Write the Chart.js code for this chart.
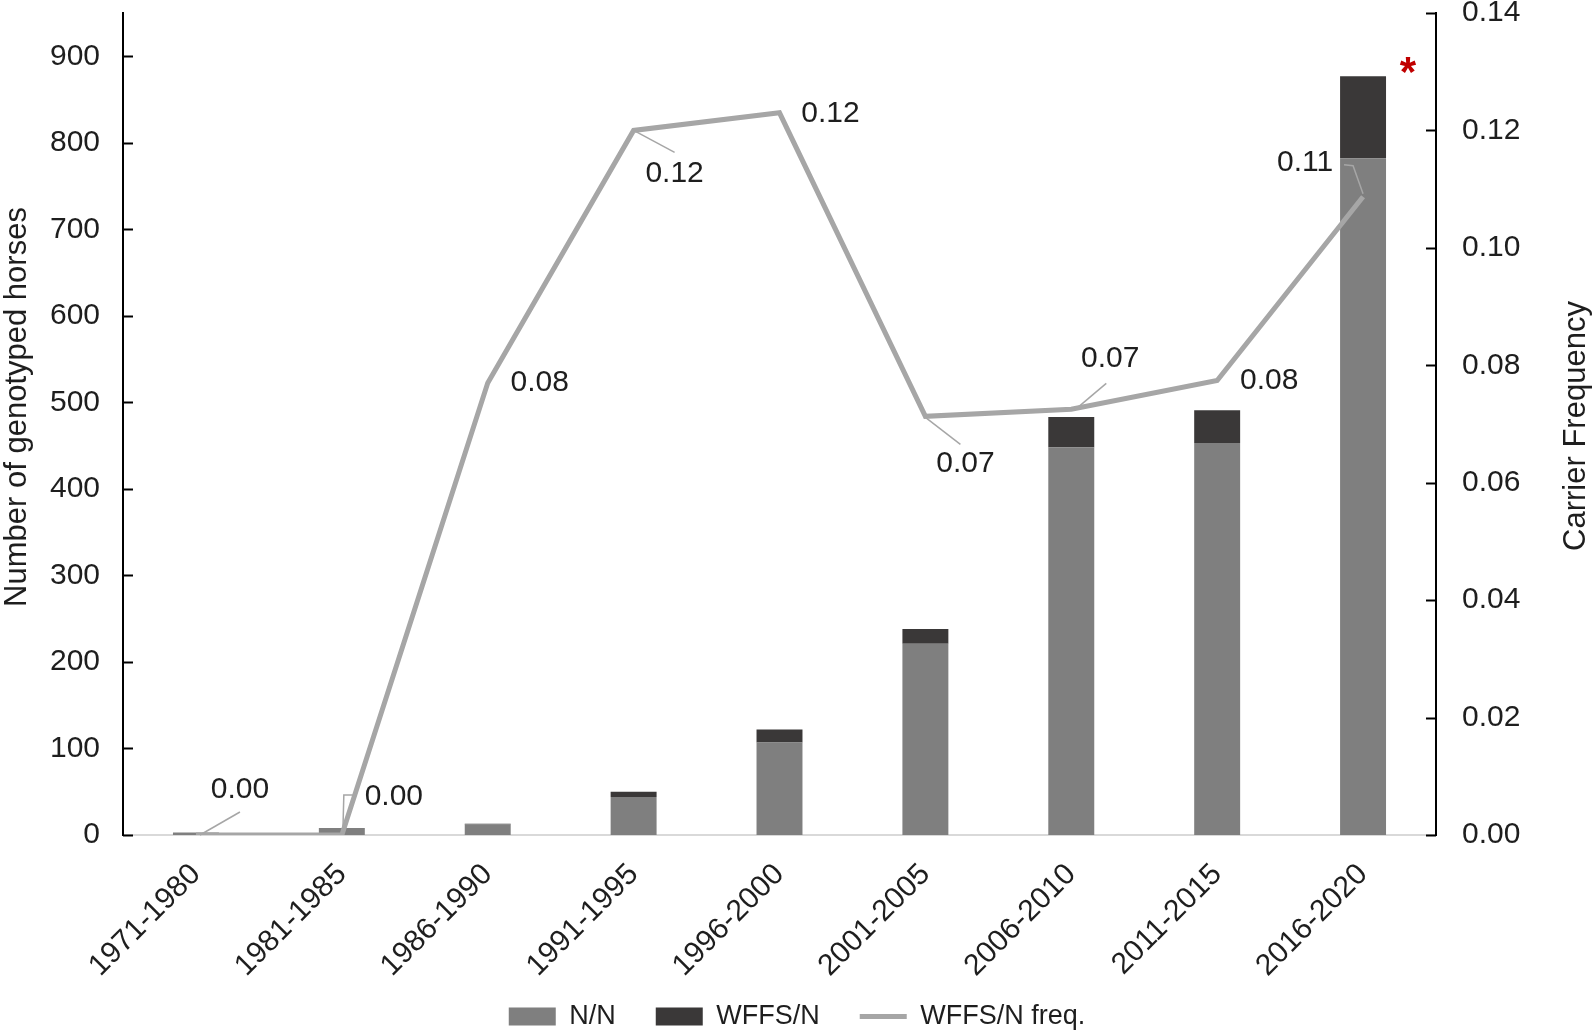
<!DOCTYPE html>
<html>
<head>
<meta charset="utf-8">
<script src="https://cdn.jsdelivr.net/npm/chart.js@4.4.1/dist/chart.umd.min.js"></script>
<style>
  html,body{margin:0;padding:0;background:#fff}
  #wrap{width:1594px;height:1034px}
</style>
</head>
<body>
<div id="wrap"><canvas id="chart" width="1594" height="1034"></canvas></div>
<script>
// data
const periods = ['1971-1980','1981-1985','1986-1990','1991-1995','1996-2000','2001-2005','2006-2010','2011-2015','2016-2020'];
const nnCounts = [3, 8, 12, 44, 107, 221, 448, 453, 782];
const wffsCounts = [0, 0, 1, 6, 15, 17, 35, 38, 95];
const carrierFreq = [0.0, 0.0, 0.077, 0.120, 0.123, 0.0713, 0.0725, 0.0774, 0.1087];
const leftTitle = 'Number of genotyped horses';
const rightTitle = 'Carrier Frequency';

// where each freq label sits relative to its point (dx,dy) + leader line path
const labelPlace = [
  {dx:44, dy:-45, lead:[[4,0],[44,-23]]},
  {dx:52, dy:-38, lead:[[1,-2],[2,-40],[11,-40]]},
  {dx:52, dy:0},
  {dx:41, dy:43, lead:[[0,0],[41,22]]},
  {dx:51, dy:1},
  {dx:40, dy:47, lead:[[0,1],[35,28]]},
  {dx:39, dy:-51, lead:[[3,1],[35,-26]]},
  {dx:52, dy:0},
  {dx:-58, dy:-34, lead:[[0,-3],[-10,-31],[-19,-32]]}
];

const FONT = 'Liberation Sans, Arial, sans-serif';
const TXT = '#1e1e1e';
const C_NN = '#7f7f7f', C_WFFS = '#3a3838', C_LINE = '#a6a6a6';

function drawVertical(ctx, text, x, y){
  ctx.save();
  ctx.translate(x, y);
  ctx.rotate(-Math.PI / 2);
  ctx.fillText(text, 0, 0);
  ctx.restore();
}

const overlay = {
  id: 'overlay',
  afterDatasetsDraw(chart){
    const ctx = chart.ctx;
    const y = chart.scales.y, y1 = chart.scales.y1;
    ctx.save();
    // inward tick marks
    ctx.strokeStyle = '#000'; ctx.lineWidth = 2;
    y.ticks.forEach(t => {
      if (t.value % 100) return;
      const py = Math.round(y.getPixelForValue(t.value)) + 0.5;
      ctx.beginPath(); ctx.moveTo(y.right, py); ctx.lineTo(y.right + 10, py); ctx.stroke();
    });
    y1.ticks.forEach(t => {
      const py = Math.round(y1.getPixelForValue(t.value)) + 0.5;
      ctx.beginPath(); ctx.moveTo(y1.left, py); ctx.lineTo(y1.left - 10, py); ctx.stroke();
    });

    // freq labels with leader lines
    const meta = chart.getDatasetMeta(2);
    ctx.font = '30px ' + FONT;
    ctx.textAlign = 'center'; ctx.textBaseline = 'middle';
    meta.data.forEach((pt, i) => {
      const p = labelPlace[i];
      if (p.lead){
        ctx.strokeStyle = C_LINE; ctx.lineWidth = 1.5;
        ctx.beginPath();
        p.lead.forEach((q, k) => {
          if (k === 0) ctx.moveTo(pt.x + q[0], pt.y + q[1]);
          else ctx.lineTo(pt.x + q[0], pt.y + q[1]);
        });
        ctx.stroke();
      }
      ctx.fillStyle = TXT;
      ctx.fillText(carrierFreq[i].toFixed(2), pt.x + p.dx, pt.y + p.dy);
    });

    // significance mark over the last bar
    const bars = chart.getDatasetMeta(1).data;
    const last = bars[bars.length - 1];
    ctx.fillStyle = '#c00000';
    ctx.font = 'bold 42px ' + FONT;
    ctx.fillText('*', last.x + last.width / 2 + 22, last.y - 2);

    // axis titles, both reading bottom to top
    ctx.fillStyle = TXT;
    ctx.font = '31px ' + FONT;
    drawVertical(ctx, leftTitle, 17, 407);
    drawVertical(ctx, rightTitle, 1576, 426);
    ctx.restore();
  }
};

new Chart(document.getElementById('chart'), {
  data: {
    labels: periods,
    datasets: [
      {type:'bar', label:'N/N', data:nnCounts, backgroundColor:C_NN, yAxisID:'y', order:2,
       barPercentage:0.315, categoryPercentage:1},
      {type:'bar', label:'WFFS/N', data:wffsCounts, backgroundColor:C_WFFS, yAxisID:'y', order:2,
       barPercentage:0.315, categoryPercentage:1},
      {type:'line', label:'WFFS/N freq.', data:carrierFreq, borderColor:C_LINE, borderWidth:5,
       pointRadius:0, tension:0, yAxisID:'y1', order:0}
    ]
  },
  options: {
    responsive:false,
    animation:false,
    layout:{padding:{top:13, left:0, right:0, bottom:-6}},
    plugins:{
      tooltip:{enabled:false},
      legend:{
        position:'bottom',
        labels:{
          color:TXT,
          font:{family:FONT, size:27},
          usePointStyle:true,
          pointStyleWidth:47,
          boxHeight:18,
          padding:40,
          generateLabels(chart){
            return chart.data.datasets.map((ds, i) => ({
              text: ds.label,
              fillStyle: ds.type === 'line' ? C_LINE : ds.backgroundColor,
              strokeStyle: ds.type === 'line' ? C_LINE : ds.backgroundColor,
              lineWidth: ds.type === 'line' ? 5 : 0,
              pointStyle: ds.type === 'line' ? 'line' : 'rect',
              fontColor: TXT,
              datasetIndex: i,
              hidden: false
            }));
          }
        }
      }
    },
    scales:{
      x:{
        stacked:true,
        grid:{display:false, drawTicks:false},
        border:{color:'#d9d9d9', width:2},
        ticks:{color:TXT, font:{family:FONT, size:30}, minRotation:45, maxRotation:45, autoSkip:false, padding:22},
        afterFit(s){
          s.height = 128;
          // let the rotated labels run past the axis box instead of being clipped
          s._computeLabelArea = () => undefined;
        }
      },
      y:{
        stacked:true,
        position:'left',
        min:0, max:950,
        grid:{display:false, drawTicks:false},
        border:{color:'#000', width:2},
        ticks:{stepSize:100, color:TXT, font:{family:FONT, size:30}, padding:23,
               callback:v => (v % 100 ? '' : v)},
        afterFit(s){ s.width = 123; s.paddingTop = 0; s.paddingBottom = 0; }
      },
      y1:{
        position:'right',
        min:0, max:0.14,
        grid:{display:false, drawTicks:false},
        border:{color:'#000', width:2},
        ticks:{stepSize:0.02, color:TXT, font:{family:FONT, size:30}, padding:26,
               callback:v => v.toFixed(2)},
        afterFit(s){ s.width = 158; s.paddingTop = 0; s.paddingBottom = 0; }
      }
    }
  },
  plugins:[overlay]
});
</script>
</body>
</html>
